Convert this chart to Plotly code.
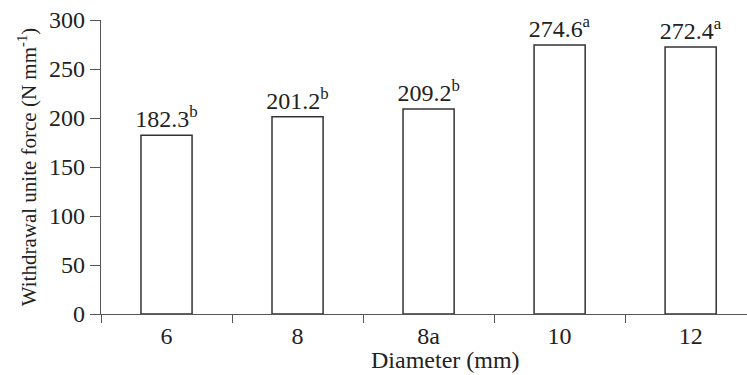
import plotly.graph_objects as go

categories = ["6", "8", "8a", "10", "12"]
values = [182.3, 201.2, 209.2, 274.6, 272.4]
letters = ["b", "b", "b", "a", "a"]
y_ticks = [0, 50, 100, 150, 200, 250, 300]

labels = [f"{v:.1f}<sup>{l}</sup>" for v, l in zip(values, letters)]

FONT = "Liberation Serif, Times New Roman, serif"
TXT = "#222222"
AX = "#555555"

fig = go.Figure(go.Bar(
    x=categories,
    y=values,
    width=0.39,
    marker=dict(color="white", line=dict(color="#333333", width=1.5)),
    text=labels,
    textposition="outside",
    constraintext="none",
    cliponaxis=False,
    textfont=dict(family=FONT, size=24, color=TXT),
))

fig.update_layout(
    width=747, height=375,
    margin=dict(l=101, r=0, t=20, b=61),
    paper_bgcolor="white", plot_bgcolor="white",
    showlegend=False,
    font=dict(family=FONT, color=TXT),
    xaxis=dict(
        type="category",
        range=[-0.5, 4.43],
        showline=True, linecolor=AX, linewidth=1.3,
        ticks="outside", ticklen=8, tickcolor=AX, tickwidth=1.3,
        tickson="boundaries",
        showgrid=False, zeroline=False,
        tickfont=dict(family=FONT, size=24, color=TXT),
    ),
    yaxis=dict(
        range=[0, 300],
        tickvals=y_ticks,
        showline=True, linecolor=AX, linewidth=1.3,
        ticks="outside", ticklen=10, tickcolor=AX, tickwidth=1.3,
        showgrid=False, zeroline=False,
        tickfont=dict(family=FONT, size=24, color=TXT),
        title=dict(text="Withdrawal unite force (N mm<sup>-1</sup>)",
                   font=dict(family=FONT, size=21, color=TXT), standoff=6),
    ),
    annotations=[dict(
        text="Diameter (mm)", xref="paper", yref="paper",
        x=(445 - 101) / (747 - 101), y=0, yshift=-46,
        xanchor="center", yanchor="middle", showarrow=False,
        font=dict(family=FONT, size=24, color=TXT),
    )],
)

fig.write_html("out.html")
